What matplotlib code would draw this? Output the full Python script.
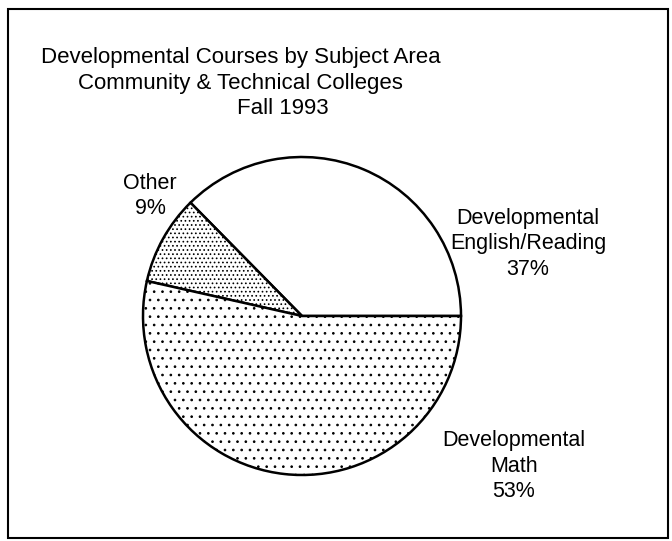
import matplotlib
matplotlib.use("Agg")
import matplotlib.pyplot as plt
from matplotlib.patches import Rectangle

plt.rcParams['font.family'] = ['Liberation Sans', 'DejaVu Sans']
plt.rcParams['hatch.linewidth'] = 0.7

# Data
subjects = ['Developmental\nEnglish/Reading', 'Other', 'Developmental\nMath']
shares = [37, 9, 53]
hatches = ['', '....', '..']
title_lines = ['Developmental Courses by Subject Area',
               'Community & Technical Colleges',
               'Fall 1993']

W, H = 672, 541
fig = plt.figure(figsize=(W / 100, H / 100), dpi=100)
ax = fig.add_axes([0, 0, 1, 1])

# pie (center / radius in pixel units, y measured from bottom)
wedges, _ = ax.pie(shares, center=(302, H - 316), radius=159,
                   startangle=0, counterclock=True,
                   colors=['white'] * 3, frame=True,
                   wedgeprops=dict(edgecolor='black', linewidth=1.8))
for w, h in zip(wedges, hatches):
    w.set_hatch(h)
ax.set_xlim(0, W)
ax.set_ylim(0, H)
ax.set_aspect('equal')
ax.axis('off')

# frame around the whole chart
ax.add_patch(Rectangle((8, H - 538), 660, 529, fill=False,
                       edgecolor='black', linewidth=1.5))

# title
ax.text(241, H - 58, title_lines[0], ha='center', va='center', fontsize=16)
ax.text(240, H - 84, title_lines[1], ha='center', va='center', fontsize=16)
ax.text(283, H - 108, title_lines[2], ha='center', va='center', fontsize=16)

# slice labels
ax.text(528, H - 244, f"{subjects[0]}\n{shares[0]}%", ha='center', va='center',
        fontsize=15.5, linespacing=1.3)
ax.text(150, H - 196, f"{subjects[1]}\n{shares[1]}%", ha='center', va='center',
        fontsize=15.5, linespacing=1.3)
ax.text(514, H - 466, f"{subjects[2]}\n{shares[2]}%", ha='center', va='center',
        fontsize=15.5, linespacing=1.3)

fig.savefig('out.png', dpi=100)
